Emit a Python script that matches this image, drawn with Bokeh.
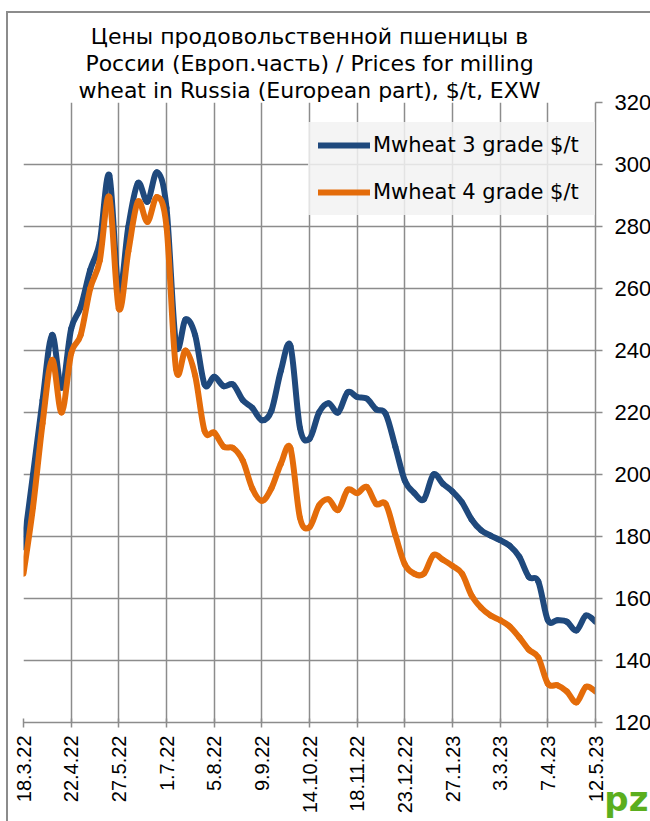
import math
from bokeh.plotting import figure
from bokeh.models import Range1d, FixedTicker, Legend, LegendItem, Title
from bokeh.embed import file_html
from bokeh.resources import INLINE

# ---- data -------------------------------------------------------------
tick_labels = ["18.3.22", "22.4.22", "27.5.22", "1.7.22", "5.8.22", "9.9.22",
               "14.10.22", "18.11.22", "23.12.22", "27.1.23", "3.3.23",
               "7.4.23", "12.5.23"]
weeks_per_label = 5

wheat3 = [176.5, 200, 224, 245, 228, 247, 254, 266, 275, 296.5,
          259, 280, 294, 288, 297.5, 286, 242, 250, 245, 229,
          231.5, 228.5, 229, 224, 221.5, 217.5, 220.5, 233.5, 241.5, 215,
          211.5, 220, 223, 220, 226.5, 225, 224.5, 221, 219.5, 209,
          198, 194, 192, 200, 197, 194.5, 191, 185.5, 182, 180.3,
          178.8, 177, 173.5, 167, 165.5, 153, 153, 152.5, 149.7, 154.5,
          152.5]
wheat4 = [168, 189.5, 216.5, 237, 220, 239, 245, 260, 269, 289.5,
          253.5, 272, 288, 281.5, 289.5, 280, 234, 240, 232, 214,
          213.5, 209, 208.5, 204.5, 195.5, 191.5, 195.5, 203.5, 208.5, 186,
          183, 190, 192, 188.5, 195, 194, 196, 190.5, 190.5, 180.5,
          171, 168, 168, 174, 172.5, 170.5, 168, 161, 157, 154.5,
          153, 151, 147.5, 143.5, 141, 132.5, 132, 130, 126.5, 131.5,
          130]
series_names = ["Mwheat 3 grade $/t", "Mwheat 4 grade $/t"]
y_ticks = [120, 140, 160, 180, 200, 220, 240, 260, 280, 300, 320]
title_lines = ["Цены продовольственной пшеницы в",
               "России (Европ.часть) / Prices for milling",
               "wheat in Russia (European part), $/t, EXW"]

BLUE = "#1F497D"
ORANGE = "#E46C0A"
GRID = "#8C8C8C"

n = len(wheat3)
p = figure(width=650, height=821, frame_width=572, frame_height=620,
           output_backend="svg", toolbar_location=None,
           x_range=Range1d(0, n - 1), y_range=Range1d(y_ticks[0], y_ticks[-1]),
           y_axis_location="right",
           min_border_left=23, min_border_right=55, min_border_top=102, min_border_bottom=99)
p.outline_line_color = None
p.background_fill_color = "white"
p.border_fill_alpha = 0
# outer chart border (drawn behind the transparent canvas border area)
p.styles = {
    "background-color": "white",
    "background-image": f"linear-gradient({GRID},{GRID}), linear-gradient({GRID},{GRID})",
    "background-size": "2px 820px, 650px 2px",
    "background-position": "6px 11px, 6px 11px",
    "background-repeat": "no-repeat",
}


def smooth_segments(vals):
    xs = list(range(len(vals)))
    m = len(vals)
    d = dict(x0=[], y0=[], x1=[], y1=[], cx0=[], cy0=[], cx1=[], cy1=[])
    for i in range(m - 1):
        im, ip = max(i - 1, 0), min(i + 2, m - 1)
        d["x0"].append(xs[i]); d["y0"].append(vals[i])
        d["x1"].append(xs[i + 1]); d["y1"].append(vals[i + 1])
        d["cx0"].append(xs[i] + (xs[i + 1] - xs[im]) / 6.0)
        d["cy0"].append(vals[i] + (vals[i + 1] - vals[im]) / 6.0)
        d["cx1"].append(xs[i + 1] - (xs[ip] - xs[i]) / 6.0)
        d["cy1"].append(vals[i + 1] - (vals[ip] - vals[i]) / 6.0)
    return d


legend_items = []
for vals, color, name in [(wheat3, BLUE, series_names[0]), (wheat4, ORANGE, series_names[1])]:
    p.bezier(source=smooth_segments(vals), x0="x0", y0="y0", x1="x1", y1="y1",
             cx0="cx0", cy0="cy0", cx1="cx1", cy1="cy1",
             line_color=color, line_width=6, line_cap="round")
    key = p.line(x=[float("nan")], y=[float("nan")], line_color=color, line_width=6,
                 line_cap="round")
    legend_items.append(LegendItem(label=name, renderers=[key]))

# ---- axes & grid --------------------------------------------------------
xt = list(range(0, n, weeks_per_label))
xa = p.xaxis[0]
xa.ticker = FixedTicker(ticks=xt)
xa.major_label_overrides = {t: lab for t, lab in zip(xt, tick_labels)}
xa.major_label_orientation = math.pi / 2
xa.major_label_text_font = "Liberation Sans"
xa.major_label_text_font_size = "20px"
xa.major_label_text_color = "black"
xa.major_label_standoff = 8
xa.axis_line_color = GRID
xa.axis_line_width = 1.5
xa.major_tick_line_color = GRID
xa.major_tick_line_width = 1.5
xa.major_tick_in = 4
xa.major_tick_out = 5
xa.minor_tick_line_color = None

ya = p.yaxis[0]
ya.ticker = FixedTicker(ticks=y_ticks)
ya.major_label_text_font = "Liberation Sans"
ya.major_label_text_font_size = "22px"
ya.major_label_text_color = "black"
ya.major_label_standoff = 12
ya.axis_line_color = GRID
ya.axis_line_width = 1.5
ya.major_tick_line_color = GRID
ya.major_tick_line_width = 1.5
ya.major_tick_in = 0
ya.major_tick_out = 7
ya.minor_tick_line_color = None

p.xgrid.ticker = FixedTicker(ticks=xt)
p.ygrid.ticker = FixedTicker(ticks=y_ticks)
for g in (p.xgrid, p.ygrid):
    g.grid_line_color = GRID
    g.grid_line_width = 1.5

# ---- legend --------------------------------------------------------------
legend = Legend(items=legend_items, location=(285, 507), margin=0, padding=10,
                spacing=21, glyph_width=52, glyph_height=26, label_height=26,
                label_width=212, label_standoff=3, label_text_font="DejaVu Sans",
                label_text_font_size="21px", label_text_color="black",
                background_fill_color="#F2F2F2", background_fill_alpha=0.85,
                border_line_color="#F2F2F2", border_line_alpha=0)
p.add_layout(legend)

# ---- title (three stacked lines, nearest line first) ---------------------
for line in reversed(title_lines):
    p.add_layout(Title(text=line, align="center", text_font="DejaVu Sans",
                       text_font_size="22px", text_font_style="normal",
                       text_color="black", standoff=0), "above")

# ---- logo text -------------------------------------------------------------
p.add_layout(Title(text="pz", align="right", offset=-53, vertical_align="top",
                   standoff=-76, text_font="DejaVu Sans", text_font_style="bold",
                   text_font_size="34px", text_color="#5BAE1E"), "below")

open("out.html", "w").write(file_html(p, INLINE))
